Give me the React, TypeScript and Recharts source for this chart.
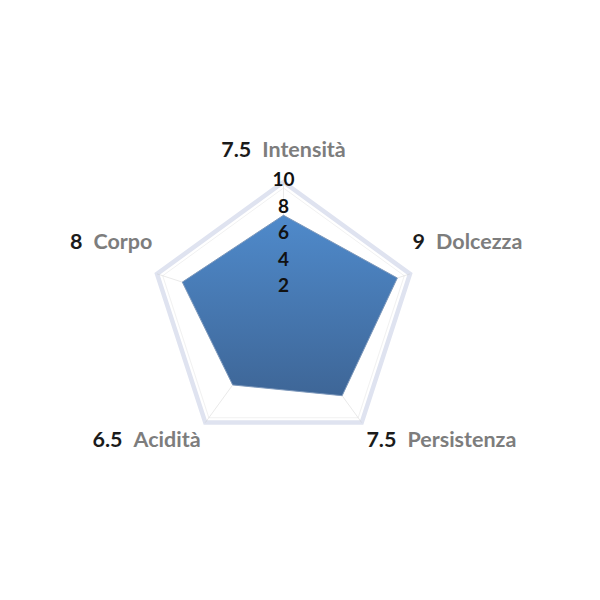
import {
	PolarAngleAxis,
	PolarGrid,
	PolarRadiusAxis,
	Radar,
	RadarChart,
} from "recharts";

const attributes = ["Intensità", "Dolcezza", "Persistenza", "Acidità", "Corpo"];
const scores = [7.5, 9, 7.5, 6.5, 8];
const radiusTicks = [2, 4, 6, 8, 10];

const data = attributes.map((name, i) => ({ name, score: scores[i] }));

const OUTER = 133;
const FONT = "Lato, 'DejaVu Sans', sans-serif";

// label offsets relative to the point recharts hands to the tick
const labelShift = [
	{ dx: 0, dy: -17 },
	{ dx: -5, dy: -22 },
	{ dx: 0, dy: 18 },
	{ dx: 0, dy: 18 },
	{ dx: 3, dy: -22 },
];

function AngleTick(props: any) {
	const { x, y, payload, textAnchor, index } = props;
	const shift = labelShift[index] ?? { dx: 0, dy: 0 };
	const score = scores[index];
	return (
		<text
			x={x + shift.dx}
			y={y + shift.dy}
			textAnchor={textAnchor}
			fontFamily={FONT}
			fontWeight={700}
			fontSize={21.5}
		>
			<tspan fill="#1b1b1b">{score}</tspan>
			<tspan fill="#7d7d7d" dx={11}>
				{payload.value}
			</tspan>
		</text>
	);
}

function RadiusTick(props: any) {
	const { x, y, payload } = props;
	return (
		<text
			x={x}
			y={y + 4}
			textAnchor="middle"
			fill="#111"
			fontFamily={FONT}
			fontWeight={700}
			fontSize={19}
		>
			{payload.value}
		</text>
	);
}

export default function App() {
	return (
		<div style={{ width: 600, height: 600 }}>
			<RadarChart
				width={600}
				height={600}
				cx={275.5}
				cy={307}
				outerRadius={OUTER}
				data={data}
				margin={{ top: 0, right: 0, bottom: 0, left: 0 }}
			>
				<defs>
					<linearGradient id="scoreFill" x1="0" y1="0" x2="0" y2="1">
						<stop offset="0%" stopColor="#4f8acb" />
						<stop offset="100%" stopColor="#3e6697" />
					</linearGradient>
				</defs>
				<PolarGrid
					gridType="polygon"
					radialLines={false}
					polarRadius={[OUTER]}
					stroke="#dfe3f0"
					strokeWidth={4.5}
				/>
				<PolarGrid
					gridType="polygon"
					radialLines={false}
					polarRadius={[OUTER - 6]}
					stroke="#f1f1f1"
					strokeWidth={1}
				/>
				<PolarAngleAxis
					dataKey="name"
					tick={<AngleTick />}
					tickLine={false}
					axisLine={false}
				/>
				<PolarRadiusAxis
					angle={90}
					domain={[0, 10]}
					ticks={radiusTicks as any}
					orientation="middle"
					axisLine={false}
					tickLine={false}
					tick={<RadiusTick />}
				/>
				<Radar
					dataKey="score"
					fill="url(#scoreFill)"
					fillOpacity={1}
					stroke="#7d98bb"
					strokeWidth={1}
					isAnimationActive={false}
				/>
				<PolarGrid
					gridType="polygon"
					polarRadius={[]}
					stroke="#c8c8c8"
					strokeOpacity={0.4}
					strokeWidth={1}
				/>
			</RadarChart>
		</div>
	);
}
